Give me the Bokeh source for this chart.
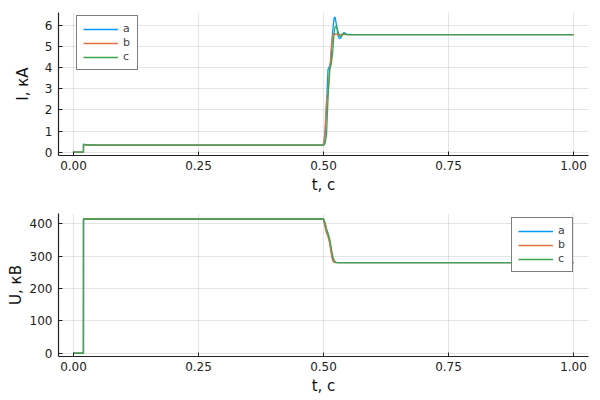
from bokeh.plotting import figure
from bokeh.layouts import column
from bokeh.models import Range1d, FixedTicker, NumeralTickFormatter, Legend, LegendItem
from bokeh.embed import file_html
from bokeh.resources import INLINE

# ---- data: currents (kA) ----
t_I = [0.0, 0.0199, 0.02, 0.024, 0.028, 0.032, 0.036, 0.04, 0.05, 0.5,
       0.503, 0.506, 0.509, 0.512, 0.515, 0.518, 0.521, 0.523, 0.526, 0.529,
       0.532, 0.535, 0.538, 0.541, 0.544, 0.548, 0.552, 0.56, 1.0]
I_a = [0.0, 0.0, 0.38, 0.36, 0.34, 0.35, 0.33, 0.34, 0.33, 0.33,
       0.7, 2.2, 3.9, 4.05, 4.3, 5.6, 6.3, 6.38, 6.0, 5.5,
       5.35, 5.4, 5.58, 5.65, 5.6, 5.55, 5.56, 5.55, 5.55]
I_b = [0.0, 0.0, 0.36, 0.35, 0.34, 0.33, 0.34, 0.33, 0.33, 0.33,
       1.0, 2.4, 2.8, 3.6, 4.8, 5.5, 5.6, 5.55, 5.58, 5.55,
       5.55, 5.56, 5.55, 5.55, 5.55, 5.55, 5.55, 5.55, 5.55]
I_c = [0.0, 0.0, 0.37, 0.35, 0.33, 0.34, 0.34, 0.33, 0.33, 0.33,
       0.4, 0.8, 2.5, 3.9, 4.1, 4.6, 5.6, 5.9, 5.95, 5.7,
       5.5, 5.45, 5.55, 5.6, 5.57, 5.55, 5.55, 5.55, 5.55]

# ---- data: voltages (kV) ----
t_U = [0.0, 0.0199, 0.02, 0.5, 0.503, 0.506, 0.509, 0.512, 0.515, 0.518,
       0.521, 0.524, 0.528, 0.535, 1.0]
U_a = [0.0, 0.0, 415, 415, 398, 378, 368, 350, 322, 296, 284, 281, 280, 280, 280]
U_b = [0.0, 0.0, 415, 415, 390, 372, 360, 342, 312, 288, 281, 280, 280, 280, 280]
U_c = [0.0, 0.0, 415, 415, 405, 385, 372, 356, 330, 302, 288, 282, 280, 280, 280]

labels = ["a", "b", "c"]
colors = ["#009AFA", "#E36F47", "#3EA44E"]
x_ticks = [0, 0.25, 0.5, 0.75, 1.0]
yI_ticks = [0, 1, 2, 3, 4, 5, 6]
yU_ticks = [0, 100, 200, 300, 400]

FONT = "DejaVu Sans"


def style(p, ylabel, yticks, ylab_standoff):
    p.xaxis.ticker = FixedTicker(ticks=x_ticks)
    p.xaxis.formatter = NumeralTickFormatter(format="0.00")
    p.yaxis.ticker = FixedTicker(ticks=yticks)
    p.xaxis.axis_label = "t, c"
    p.yaxis.axis_label = ylabel
    for ax in (p.xaxis[0], p.yaxis[0]):
        ax.axis_label_text_font = FONT
        ax.axis_label_text_font_size = "15px"
        ax.axis_label_text_font_style = "normal"
        ax.axis_label_text_color = "#111111"
        ax.major_label_text_font = FONT
        ax.major_label_text_font_size = "12px"
        ax.major_label_text_color = "#222222"
        ax.major_tick_in = 4
        ax.major_tick_out = 0
        ax.minor_tick_line_color = None
        ax.axis_line_color = "#222222"
        ax.axis_line_width = 1.2
        ax.major_tick_line_color = "#222222"
    p.xaxis.major_label_standoff = 5
    p.yaxis.major_label_standoff = 6
    p.xaxis.axis_label_standoff = 3
    p.yaxis.axis_label_standoff = ylab_standoff
    p.grid.grid_line_color = "black"
    p.grid.grid_line_alpha = 0.1
    p.outline_line_color = None
    p.background_fill_color = "white"
    p.border_fill_color = "white"


def add_lines(p, t, series, loc):
    items = []
    for lab, col, ys in zip(labels, colors, series):
        r = p.line(t, ys, line_color=col, line_width=1.3)
        items.append(LegendItem(label=lab, renderers=[r]))
    lg = Legend(items=items, location=loc)
    lg.label_text_font = FONT
    lg.label_text_font_size = "11px"
    lg.label_height = 12
    lg.label_width = 8
    lg.glyph_height = 12
    lg.glyph_width = 35
    lg.label_standoff = 5
    lg.spacing = 1
    lg.padding = 6
    lg.margin = 0
    lg.border_line_color = "black"
    lg.border_line_width = 1
    lg.background_fill_alpha = 1.0
    p.add_layout(lg, "center")


p1 = figure(frame_width=530, frame_height=143, output_backend="svg", toolbar_location=None,
            x_range=Range1d(-0.03, 1.03), y_range=Range1d(-0.155, 6.59),
            min_border_left=58, min_border_right=12, min_border_top=12, min_border_bottom=40)
style(p1, "I, кА", yI_ticks, 10)
add_lines(p1, t_I, [I_a, I_b, I_c], (18, 85))

p2 = figure(frame_width=530, frame_height=143, output_backend="svg", toolbar_location=None,
            x_range=Range1d(-0.03, 1.03), y_range=Range1d(-10, 432),
            min_border_left=58, min_border_right=12, min_border_top=17, min_border_bottom=36)
style(p2, "U, кВ", yU_ticks, 2)
add_lines(p2, t_U, [U_a, U_b, U_c], (453, 84))

layout = column(p1, p2, spacing=0)
open("out.html", "w").write(file_html(layout, INLINE))
